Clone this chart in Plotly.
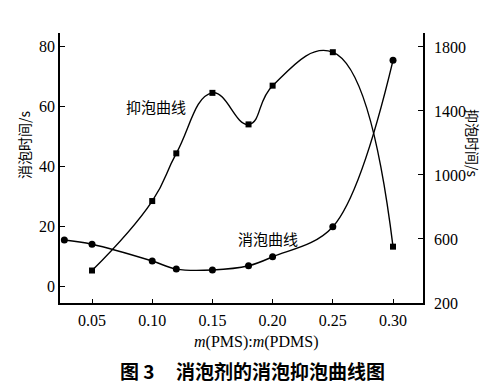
import plotly.graph_objects as go

# data
ratio_break = [0.027, 0.05, 0.10, 0.12, 0.15, 0.18, 0.20, 0.25, 0.30]
time_break = [15.6, 14.2, 8.6, 5.9, 5.6, 7.0, 10.0, 20.0, 75.5]

ratio_inhibit = [0.05, 0.10, 0.12, 0.15, 0.18, 0.20, 0.25, 0.30]
time_inhibit = [403, 837, 1135, 1513, 1316, 1558, 1767, 552]

x_ticks = [0.05, 0.10, 0.15, 0.20, 0.25, 0.30]
left_ticks = [0, 20, 40, 60, 80]
right_ticks = [200, 600, 1000, 1400, 1800]

SERIF = "Liberation Serif, Times New Roman, serif"
CJK = "Noto Sans CJK SC"

L, R, T, B = 60, 71, 33, 81
W, H = 494, 384

fig = go.Figure()
fig.add_trace(go.Scatter(
    x=ratio_break, y=time_break, mode="lines+markers",
    line=dict(color="black", width=1.4, shape="spline", smoothing=1.0),
    marker=dict(symbol="circle", size=7, color="black"),
    yaxis="y", showlegend=False))
fig.add_trace(go.Scatter(
    x=ratio_inhibit, y=time_inhibit, mode="lines+markers",
    line=dict(color="black", width=1.4, shape="spline", smoothing=1.3),
    marker=dict(symbol="square", size=6, color="black"),
    yaxis="y2", showlegend=False))

fig.update_layout(
    width=W, height=H,
    margin=dict(l=L, r=R, t=T, b=B),
    paper_bgcolor="white", plot_bgcolor="white",
    xaxis=dict(range=[0.0234, 0.3249], tickvals=x_ticks, tickformat=".2f",
               ticks="inside", ticklen=4, tickwidth=1.2, tickcolor="black",
               showline=True, linecolor="black", linewidth=1.6,
               showgrid=False, zeroline=False, ticklabelstandoff=2,
               tickfont=dict(family=SERIF, size=16, color="black")),
    yaxis=dict(range=[-5.4, 84.6], tickvals=left_ticks,
               ticks="inside", ticklen=5, tickwidth=1.2, tickcolor="black",
               showline=True, linecolor="black", linewidth=1.6,
               showgrid=False, zeroline=False,
               tickfont=dict(family=SERIF, size=16, color="black")),
    yaxis2=dict(range=[200, 1887], tickvals=right_ticks, overlaying="y", side="right",
                ticks="inside", ticklen=5, tickwidth=1.2, tickcolor="black",
                showline=True, linecolor="black", linewidth=1.6,
                showgrid=False, zeroline=False, ticklabelstandoff=6,
                tickfont=dict(family=SERIF, size=16, color="black")),
)

ann = [
    dict(text="抑泡曲线", x=156, y=107, font=dict(family=CJK, size=15)),
    dict(text="消泡曲线", x=268, y=238, font=dict(family=CJK, size=15)),
    dict(text="消泡时间/s", x=24, y=145, textangle=-90, font=dict(family=CJK, size=14)),
    dict(text="抑泡时间/s", x=473, y=143, textangle=90, font=dict(family=CJK, size=14)),
    dict(text="<i>m</i>(PMS):<i>m</i>(PDMS)", x=256, y=342, font=dict(family=SERIF, size=16)),
    dict(text="<b>图 3     消泡剂的消泡抑泡曲线图</b>", x=252, y=370, font=dict(family=CJK, size=19)),
]
for a in ann:
    fig.add_annotation(
        text=a["text"], xref="paper", yref="paper",
        x=(a["x"] - L) / (W - L - R),
        y=(H - B - a["y"]) / (H - T - B),
        xanchor="center", yanchor="middle", showarrow=False,
        textangle=a.get("textangle", 0),
        font=dict(color="black", **a["font"]))

fig.write_html("out.html", config={"displayModeBar": False},
               post_script=["document.body.style.margin='0';document.body.style.overflow='hidden';"])
